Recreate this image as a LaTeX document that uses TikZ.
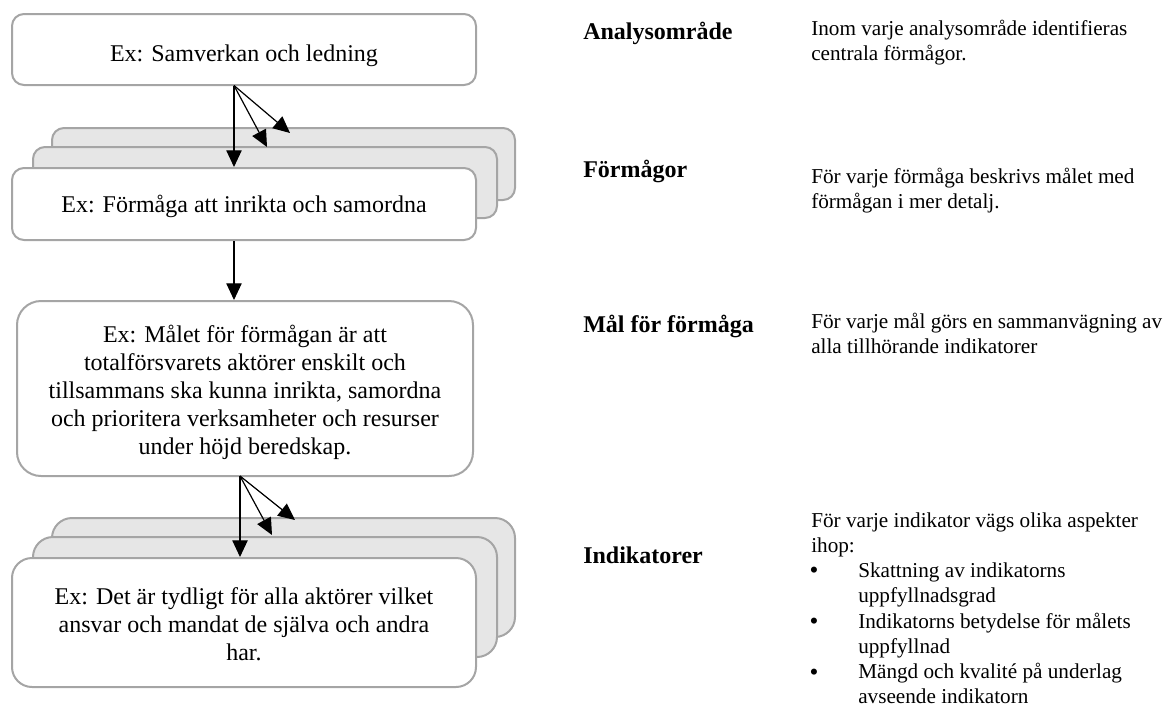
\documentclass[tikz,border=0pt]{standalone}
\usepackage{fontspec}
\setmainfont{Liberation Serif}
\usetikzlibrary{arrows.meta}
\definecolor{boxgray}{RGB}{165,165,165}
\definecolor{backgray}{RGB}{230,230,230}
\newdimen\pxu \pxu=0.75pt
\begin{document}
\begin{tikzpicture}[x=0.75pt,y=-0.75pt,
  box/.style={draw=boxgray, line width=1.5pt, fill=white, rounded corners=9pt, inner sep=0pt},
  backbox/.style={box, fill=backgray},
  arr/.style={-{Triangle[length=12.5pt,width=11.5pt]}, line width=0.9pt, black},
  boxtext/.style={font=\fontsize{18pt}{21pt}\selectfont, align=center, anchor=base, inner sep=0pt},
  lbl/.style={font=\fontsize{18pt}{21pt}\selectfont\bfseries, anchor=base west, inner sep=0pt},
  desc/.style={font=\fontsize{15.9pt}{18.75pt}\selectfont, anchor=base west, inner sep=0pt, align=left},
  bul/.style={font=\fontsize{19pt}{21pt}\selectfont, anchor=base, inner sep=0pt},
]
\useasboundingbox (0,0) rectangle (1165,704);

% --- level 1
\node[box, minimum width=464*\pxu, minimum height=71*\pxu] (b1) at (244,49.5) {};
\node[boxtext] (t1) at (244,61) {Ex: Samverkan och ledning};

% --- stack 1
\node[backbox, minimum width=463*\pxu, minimum height=72*\pxu] (f1c) at (283.5,164) {};
\node[backbox, minimum width=464*\pxu, minimum height=71*\pxu] (f1b) at (265,182.5) {};
\node[box, minimum width=464*\pxu, minimum height=72*\pxu] (f1a) at (244,204) {};
\node[boxtext] (t2) at (244,212) {Ex: Förmåga att inrikta och samordna};

% --- level 3
\node[box, rounded corners=18pt, minimum width=456*\pxu, minimum height=175*\pxu] (b3) at (245,388.5) {};
\node[boxtext] (t3) at (245,454) {Ex: Målet för förmågan är att\\totalförsvarets aktörer enskilt och\\tillsammans ska kunna inrikta, samordna\\och prioritera verksamheter och resurser\\under höjd beredskap.};

% --- stack 2
\node[backbox, rounded corners=15pt, minimum width=463*\pxu, minimum height=119*\pxu] (i1c) at (283.5,577.5) {};
\node[backbox, rounded corners=15pt, minimum width=464*\pxu, minimum height=120*\pxu] (i1b) at (265,597) {};
\node[box, rounded corners=15pt, minimum width=464*\pxu, minimum height=129*\pxu] (i1a) at (244,622.5) {};
\node[boxtext] (t4) at (244,660) {Ex: Det är tydligt för alla aktörer vilket\\ansvar och mandat de själva och andra\\har.};

% --- connectors
\coordinate (s1) at (234,85.5);
\coordinate (e2) at (267,147);
\coordinate (e3) at (290,133);
\draw[arr] (s1) -- (s1 |- f1a.north);
\draw[arr] (s1) -- (e2);
\draw[arr] (s1) -- (e3);
\draw[arr] (f1a.south -| s1) -- (s1 |- b3.north);

\coordinate (s2) at (240,476);
\coordinate (e5) at (272,535);
\coordinate (e6) at (295,520);
\draw[arr] (s2) -- (s2 |- i1a.north);
\draw[arr] (s2) -- (e5);
\draw[arr] (s2) -- (e6);

% --- right column labels
\node[lbl] (l1) at (583,39) {Analysområde};
\node[lbl] (l2) at (583,177) {Förmågor};
\node[lbl] (l3) at (583,332) {Mål för förmåga};
\node[lbl] (l4) at (583,563) {Indikatorer};

% --- descriptions (base anchor = last line)
\node[desc] (d1) at (811,60) {Inom varje analysområde identifieras\\centrala förmågor.};
\node[desc] (d2) at (811,208) {För varje förmåga beskrivs målet med\\förmågan i mer detalj.};
\node[desc] (d3) at (811,353) {För varje mål görs en sammanvägning av\\alla tillhörande indikatorer};
\node[desc] (d4) at (811,552) {För varje indikator vägs olika aspekter\\ihop:};
\node[bul] (u1) at (814,578) {\textbullet};
\node[desc] (v1) at (858,602) {Skattning av indikatorns\\uppfyllnadsgrad};
\node[bul] (u2) at (814,629) {\textbullet};
\node[desc] (v2) at (858,653) {Indikatorns betydelse för målets\\uppfyllnad};
\node[bul] (u3) at (814,680) {\textbullet};
\node[desc] (v3) at (858,703) {Mängd och kvalité på underlag\\avseende indikatorn};
\end{tikzpicture}
\end{document}
